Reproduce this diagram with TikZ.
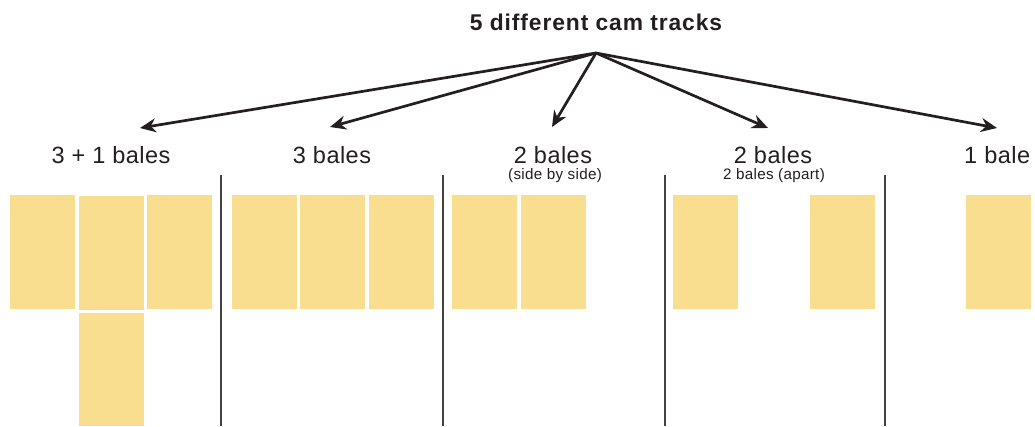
\documentclass[tikz,border=0pt]{standalone}
\usepackage{fontspec}
\setmainfont{Liberation Sans}
\newfontfamily\titlefont[LetterSpace=4.0]{Liberation Sans}
\newfontfamily\labelfont[LetterSpace=2.0]{Liberation Sans}
\usetikzlibrary{arrows.meta}
\definecolor{bale}{HTML}{F8DE8E}
\definecolor{ink}{HTML}{231F20}
\tikzset{
  balebox/.style={fill=bale, draw=none},
  divider/.style={draw=ink!85, line width=1.4pt},
  big/.style={font=\labelfont\fontsize{23.5}{25}\selectfont, text=ink, inner sep=0pt},
  small/.style={font=\labelfont\fontsize{15.2}{17}\selectfont, text=ink, inner sep=0pt},
  arr/.style={draw=ink, line width=2.7pt, -{Stealth[length=16pt,width=14pt]}}
}
\begin{document}
\begin{tikzpicture}[x=1pt,y=-1pt]
\useasboundingbox (0,0) rectangle (1035,426);
% title
\node[text=ink, inner sep=0pt, font=\titlefont\fontsize{22.8}{24}\selectfont\bfseries] (title) at (596,22) {5 different cam tracks};
\coordinate (apex) at (596,53);
% labels
\node[big] (l1) at (111,155) {3 + 1 bales};
\node[big] (l2) at (332,155) {3 bales};
\node[big] (l3) at (553,155) {2 bales};
\node[small] (s3) at (555,176) {(side by side)};
\node[big] (l4) at (773,155) {2 bales};
\node[small] (s4) at (774,176) {2 bales (apart)};
\node[big, anchor=west] (l5) at (964,155) {1 bale};
% arrow ends
\coordinate (e1) at (140,128);
\coordinate (e2) at (330,127);
\coordinate (e3) at (552,127);
\coordinate (e4) at (768,128);
\coordinate (e5) at (997,128);
\foreach \e in {e1,e2,e3,e4,e5} \draw[arr] (apex) -- (\e);
% dividers
\foreach \x [count=\i] in {221,443,665,885} {
  \coordinate (dt\i) at (\x,175);
  \coordinate (db\i) at (\x,426);
  \draw[divider] (dt\i) -- (db\i);
}
% bales group 1
\fill[balebox] (10,195) rectangle (75,309);
\fill[balebox] (79,196) rectangle (144,310);
\fill[balebox] (147,195) rectangle (212,309);
\fill[balebox] (79,313) rectangle (144,426);
% group 2
\fill[balebox] (232,195) rectangle (297,309);
\fill[balebox] (300,195) rectangle (365,309);
\fill[balebox] (369,195) rectangle (434,309);
% group 3
\fill[balebox] (452,195) rectangle (517,309);
\fill[balebox] (521,195) rectangle (586,309);
% group 4
\fill[balebox] (673,195) rectangle (738,309);
\fill[balebox] (810,195) rectangle (875,309);
% group 5
\fill[balebox] (966,195) rectangle (1031,309);
\end{tikzpicture}
\end{document}
